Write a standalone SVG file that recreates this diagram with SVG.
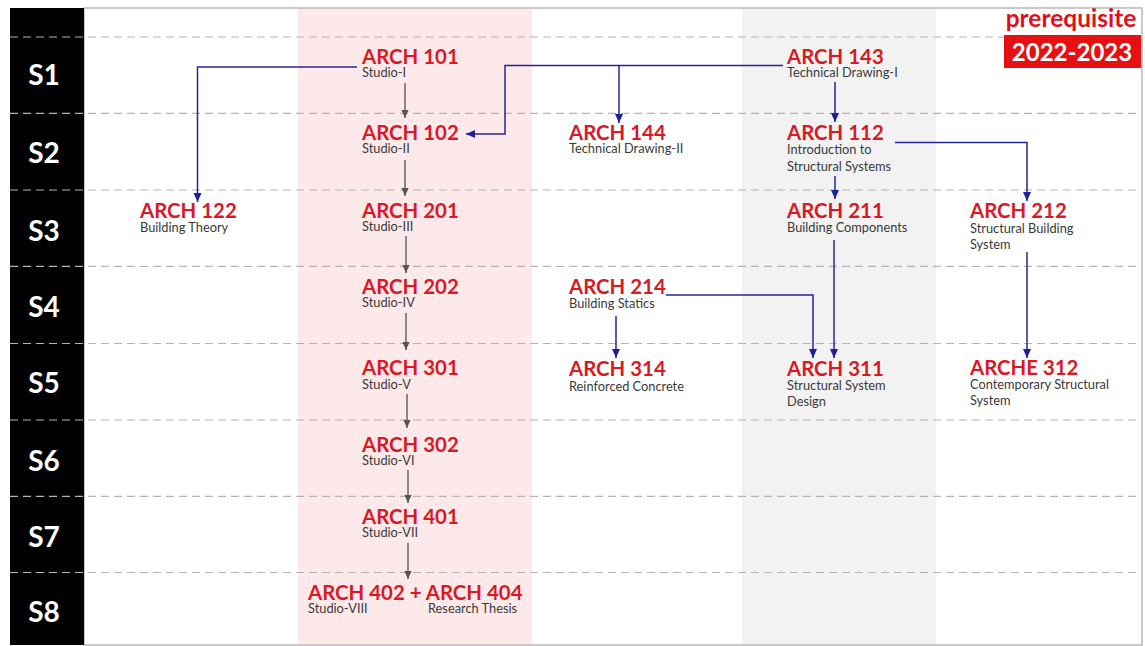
<svg xmlns="http://www.w3.org/2000/svg" width="1145" height="646" viewBox="0 0 1145 646">
<style>
.code{font-family:Lato,"Open Sans","Liberation Sans",sans-serif;font-weight:bold;font-size:20.4px;fill:#d71a24}
.sub{font-family:Lato,"Open Sans","Liberation Sans",sans-serif;font-size:12.8px;fill:#3a3a3a}
.sem{font-family:Lato,"Open Sans","Liberation Sans",sans-serif;font-weight:bold;font-size:28px;fill:#ffffff;text-anchor:middle}
.dash{stroke:#b4b4b4;stroke-width:1.2;stroke-dasharray:8 5;fill:none}
.blue{stroke:#26269a;stroke-width:1.5;fill:none}
.gray{stroke:#666666;stroke-width:1.5;fill:none}
</style>
<defs>
<marker id="ab" markerUnits="userSpaceOnUse" markerWidth="10" markerHeight="10" viewBox="0 0 10 10" refX="9" refY="5" orient="auto">
<path d="M0,1 L9,5 L0,9 Z" fill="#1f1f9a"/>
</marker>
<marker id="ag" markerUnits="userSpaceOnUse" markerWidth="9" markerHeight="9" viewBox="0 0 10 10" refX="9" refY="5" orient="auto">
<path d="M0,1 L9,5 L0,9 Z" fill="#555555"/>
</marker>
</defs>
<rect x="0" y="0" width="1145" height="646" fill="#ffffff"/>
<g id="background">
<rect x="84" y="8" width="1058" height="637" fill="#ffffff" stroke="#b8b8b8" stroke-width="1.5"/>
<rect x="298" y="9" width="234" height="635" fill="#fde9ea"/>
<rect x="742" y="9" width="194" height="635" fill="#f2f2f2"/>
<rect x="10" y="8" width="74" height="637" fill="#000000"/>
</g>
<g id="grid">
<line class="dash" x1="10" y1="37" x2="1141" y2="37"/>
<line class="dash" x1="10" y1="113.4" x2="1141" y2="113.4"/>
<line class="dash" x1="10" y1="190" x2="1141" y2="190"/>
<line class="dash" x1="10" y1="266.4" x2="1141" y2="266.4"/>
<line class="dash" x1="10" y1="343.5" x2="1141" y2="343.5"/>
<line class="dash" x1="10" y1="420" x2="1141" y2="420"/>
<line class="dash" x1="10" y1="496.4" x2="1141" y2="496.4"/>
<line class="dash" x1="10" y1="572.5" x2="1141" y2="572.5"/>
</g>
<g id="semesters">
<text class="sem" x="44" y="85">S1</text>
<text class="sem" x="44" y="163">S2</text>
<text class="sem" x="44" y="241">S3</text>
<text class="sem" x="44" y="317">S4</text>
<text class="sem" x="44" y="393">S5</text>
<text class="sem" x="44" y="471">S6</text>
<text class="sem" x="44" y="547">S7</text>
<text class="sem" x="44" y="622">S8</text>
</g>
<g id="title">
<rect x="1003" y="10" width="138" height="26" fill="#ffffff"/>
<text x="1071" y="27" text-anchor="middle" style="font-family:Lato,'Liberation Sans',sans-serif;font-weight:bold;font-size:24.5px;fill:#e0101a">prerequisite</text>
<rect x="1004" y="35" width="137" height="33" fill="#e60f12"/>
<text x="1072" y="61" text-anchor="middle" style="font-family:Lato,'Liberation Sans',sans-serif;font-weight:bold;font-size:24px;fill:#ffffff">2022-2023</text>
</g>
<g id="connectors">
<path class="gray" d="M405,83 V118" marker-end="url(#ag)"/>
<path class="gray" d="M405,160 V196" marker-end="url(#ag)"/>
<path class="gray" d="M406,236 V273" marker-end="url(#ag)"/>
<path class="gray" d="M406,313 V350" marker-end="url(#ag)"/>
<path class="gray" d="M407,394 V428" marker-end="url(#ag)"/>
<path class="gray" d="M408,470 V503" marker-end="url(#ag)"/>
<path class="gray" d="M408,543 V579" marker-end="url(#ag)"/>
<path class="blue" d="M357,67 H197.5 V202" marker-end="url(#ab)"/>
<path class="blue" d="M783,65.5 H505 V134 H466" marker-end="url(#ab)"/>
<path class="blue" d="M619,65.5 V123" marker-end="url(#ab)"/>
<path class="blue" d="M835,82 V122" marker-end="url(#ab)"/>
<path class="blue" d="M835,176 V199" marker-end="url(#ab)"/>
<path class="blue" d="M895,142.5 H1027 V201" marker-end="url(#ab)"/>
<path class="blue" d="M1027,252 V358" marker-end="url(#ab)"/>
<path class="blue" d="M834,240 V358" marker-end="url(#ab)"/>
<path class="blue" d="M666,295 H813 V358" marker-end="url(#ab)"/>
<path class="blue" d="M616,316 V358" marker-end="url(#ab)"/>
</g>
<g id="n101"><text class="code" x="362" y="64">ARCH 101</text><text class="sub" x="362" y="77">Studio-I</text></g>
<g id="n143"><text class="code" x="787" y="64">ARCH 143</text><text class="sub" x="787" y="77">Technical Drawing-I</text></g>
<g id="n102"><text class="code" x="362" y="140">ARCH 102</text><text class="sub" x="362" y="153">Studio-II</text></g>
<g id="n144"><text class="code" x="569" y="140">ARCH 144</text><text class="sub" x="569" y="153">Technical Drawing-II</text></g>
<g id="n112"><text class="code" x="787" y="140">ARCH 112</text><text class="sub" x="787" y="154">Introduction to</text><text class="sub" x="787" y="171">Structural Systems</text></g>
<g id="n122"><text class="code" x="140" y="218">ARCH 122</text><text class="sub" x="140" y="232">Building Theory</text></g>
<g id="n201"><text class="code" x="362" y="218">ARCH 201</text><text class="sub" x="362" y="231">Studio-III</text></g>
<g id="n211"><text class="code" x="787" y="218">ARCH 211</text><text class="sub" x="787" y="232">Building Components</text></g>
<g id="n212"><text class="code" x="970" y="218">ARCH 212</text><text class="sub" x="970" y="233">Structural Building</text><text class="sub" x="970" y="249">System</text></g>
<g id="n202"><text class="code" x="362" y="294">ARCH 202</text><text class="sub" x="362" y="307">Studio-IV</text></g>
<g id="n214"><text class="code" x="569" y="294">ARCH 214</text><text class="sub" x="569" y="308">Building Statics</text></g>
<g id="n301"><text class="code" x="362" y="375">ARCH 301</text><text class="sub" x="362" y="389">Studio-V</text></g>
<g id="n314"><text class="code" x="569" y="376">ARCH 314</text><text class="sub" x="569" y="391">Reinforced Concrete</text></g>
<g id="n311"><text class="code" x="787" y="376">ARCH 311</text><text class="sub" x="787" y="390">Structural System</text><text class="sub" x="787" y="406">Design</text></g>
<g id="n312"><text class="code" x="970" y="375">ARCHE 312</text><text class="sub" x="970" y="389">Contemporary Structural</text><text class="sub" x="970" y="405">System</text></g>
<g id="n302"><text class="code" x="362" y="452">ARCH 302</text><text class="sub" x="362" y="465">Studio-VI</text></g>
<g id="n401"><text class="code" x="362" y="524">ARCH 401</text><text class="sub" x="362" y="537">Studio-VII</text></g>
<g id="n402"><text class="code" x="308" y="600">ARCH 402 + ARCH 404</text><text class="sub" x="308" y="613">Studio-VIII</text><text class="sub" x="428" y="613">Research Thesis</text></g>
</svg>
